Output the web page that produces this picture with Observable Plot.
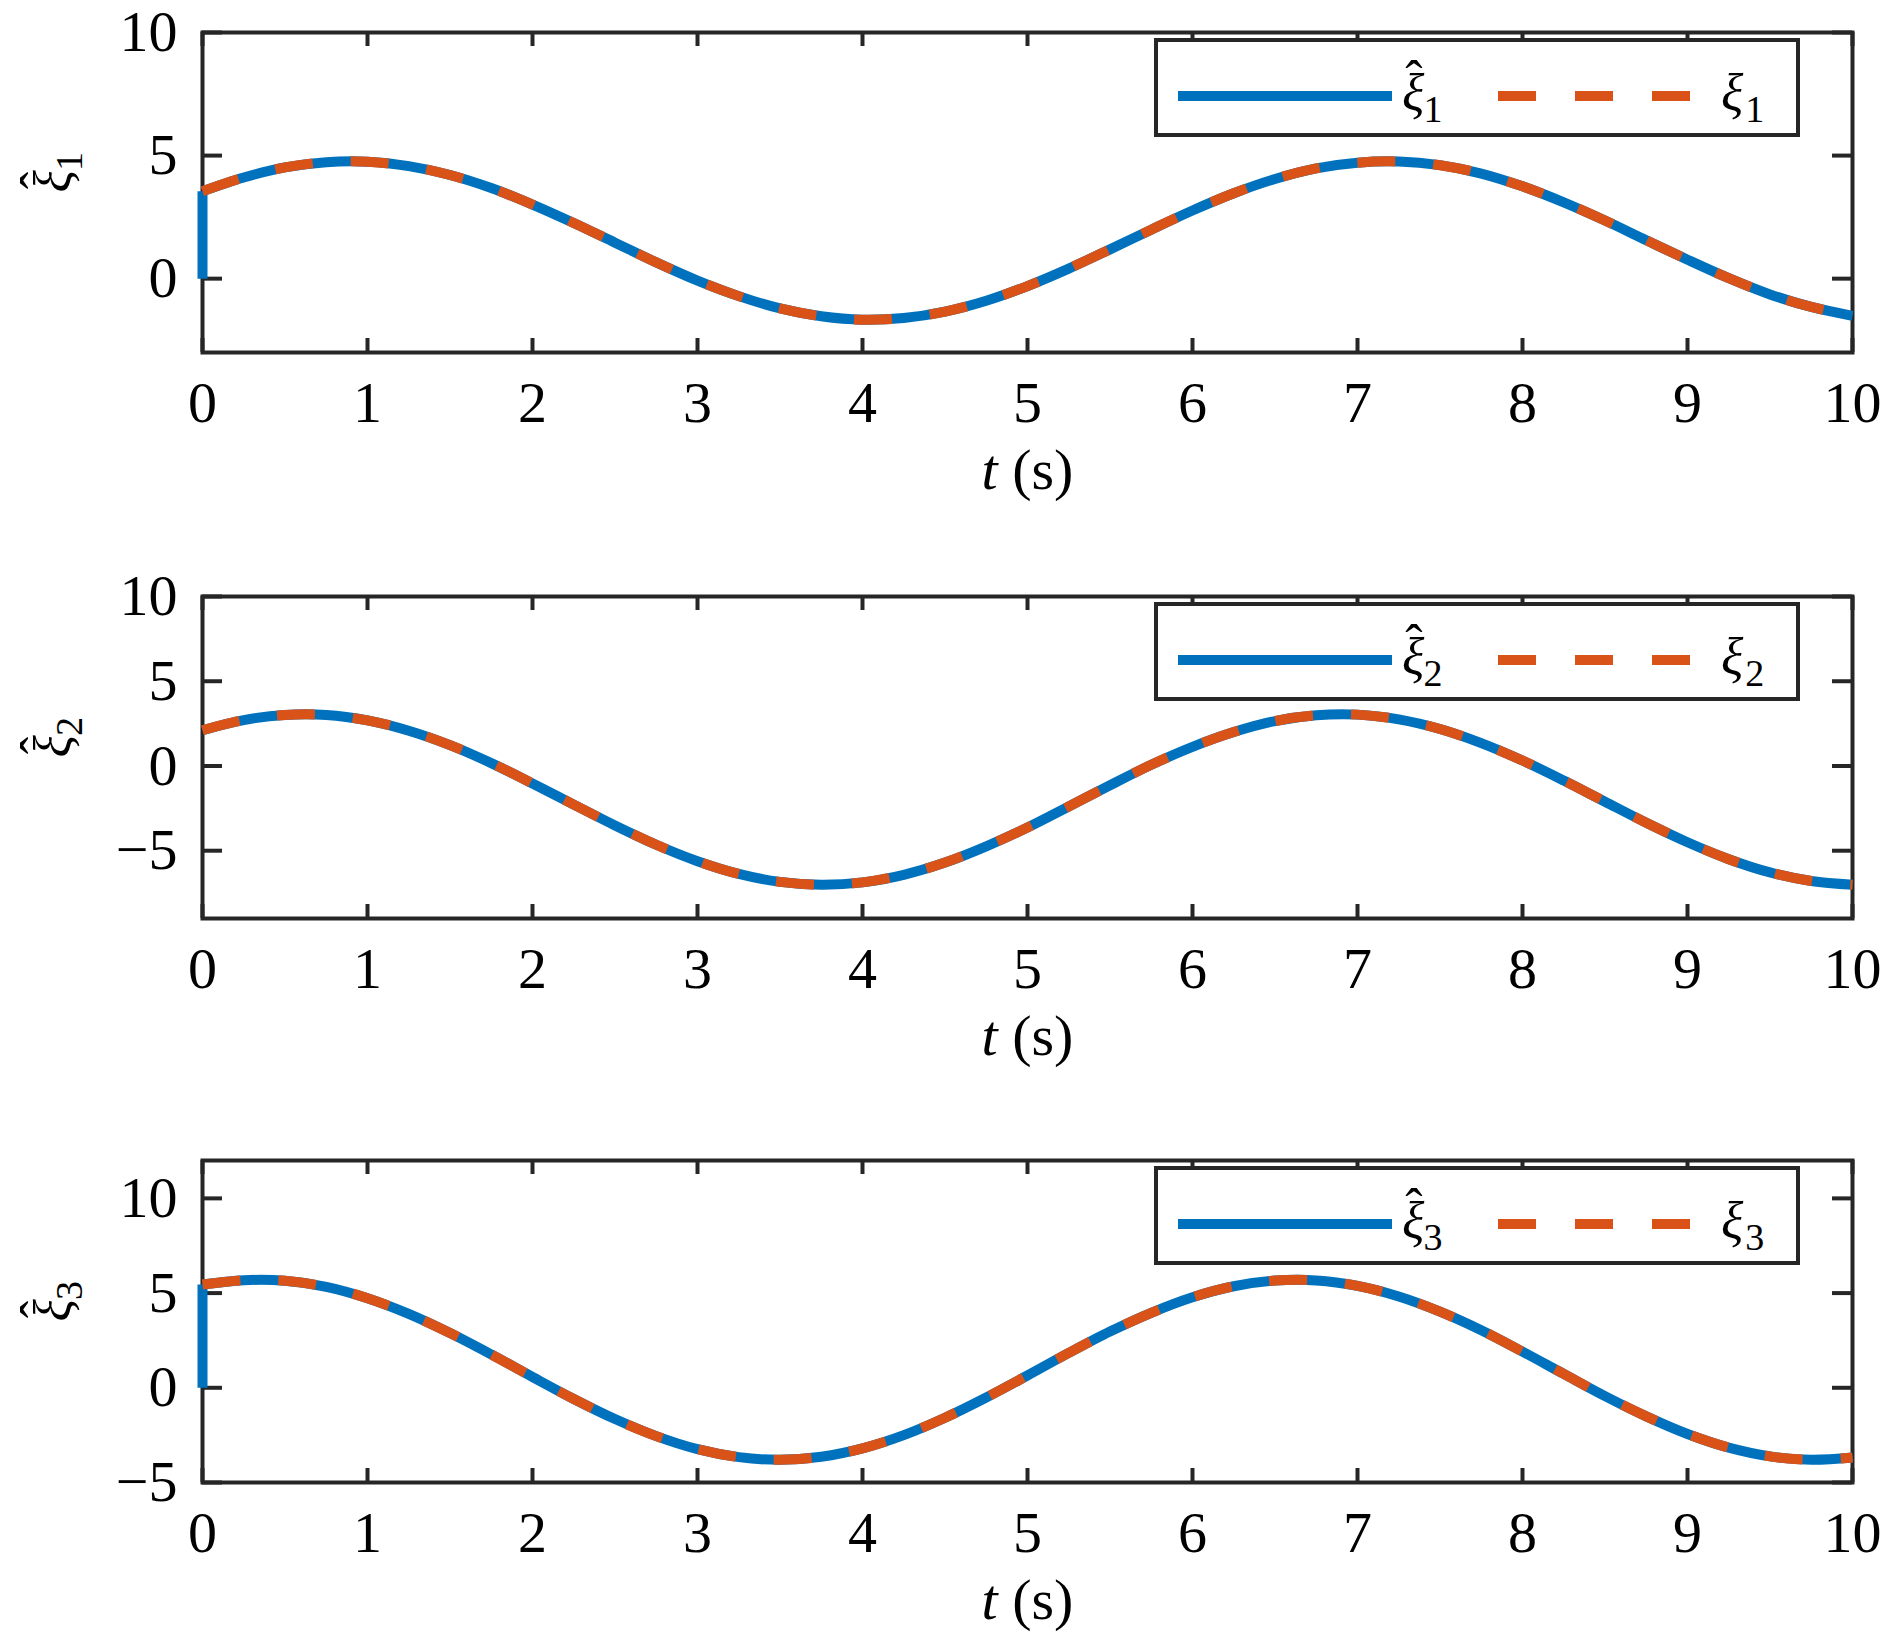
<!DOCTYPE html>
<html><head><meta charset="utf-8">
<script src="https://cdn.jsdelivr.net/npm/d3@7"></script>
<script src="https://cdn.jsdelivr.net/npm/@observablehq/plot@0.6"></script>
<style>
body{margin:0;background:#fff;}
#root{position:relative;width:1890px;height:1639px;overflow:hidden;background:#fff;}
#root svg{display:block;}
</style></head><body><div id="root"></div>
<script>
// ---- data ----
const tVals = [0,0.25,0.5,0.75,1,1.25,1.5,1.75,2,2.25,2.5,2.75,3,3.25,3.5,3.75,4,4.25,4.5,4.75,5,5.25,5.5,5.75,6,6.25,6.5,6.75,7,7.25,7.5,7.75,8,8.25,8.5,8.75,9,9.25,9.5,9.75,10];
const xi1 = [3.55,4.11,4.52,4.73,4.75,4.57,4.21,3.68,3.01,2.26,1.46,0.66,-0.08,-0.71,-1.21,-1.53,-1.67,-1.60,-1.34,-0.90,-0.30,0.41,1.19,1.99,2.77,3.47,4.05,4.48,4.71,4.76,4.61,4.27,3.75,3.10,2.36,1.56,0.77,0.02,-0.64,-1.15,-1.51];
const xi2 = [2.11,2.71,3.01,3.01,2.69,2.08,1.23,0.17,-1.03,-2.28,-3.51,-4.65,-5.62,-6.37,-6.84,-7.01,-6.87,-6.42,-5.70,-4.74,-3.63,-2.39,-1.14,0.07,1.13,2.00,2.65,2.99,3.03,2.75,2.18,1.35,0.32,-0.86,-2.11,-3.35,-4.50,-5.50,-6.28,-6.79,-7.01];
const xi3 = [5.45,5.68,5.65,5.33,4.73,3.90,2.89,1.76,0.57,-0.59,-1.65,-2.55,-3.24,-3.66,-3.80,-3.64,-3.20,-2.50,-1.58,-0.51,0.65,1.84,2.97,3.96,4.78,5.36,5.66,5.67,5.38,4.82,4.02,3.04,1.91,0.73,-0.44,-1.51,-2.44,-3.16,-3.62,-3.80,-3.68];
const hatInitial = [0, null, 0];          // estimator value at t = 0 (before the jump)
const seriesSubs = ["1", "2", "3"];
const xTicks = [0,1,2,3,4,5,6,7,8,9,10];
const yDomains = [[-3, 10], [-9, 10], [-5, 12]];
const yTicks = [[0, 5, 10], [-5, 0, 5, 10], [-5, 0, 5, 10]];
const xLabel = "t (s)";

// ---- styling / layout ----
const BLUE = "#0072BD", ORANGE = "#D95319", AX = "#262626";
const W = 1890, ML = 202, MR = 38, MT = 32, MB = 150;
const panelTops = [32, 596, 1160];
const plotHeights = [320, 322, 322];
const FONT = '"Liberation Serif", "Times New Roman", Times, serif';
const allSeries = [xi1, xi2, xi3];
const root = document.getElementById("root");

// hatted / plain xi with subscript as tspans
function xiMarkup(hat, sub, subSize) {
  let s = '<tspan font-style="italic">ξ</tspan>';
  if (hat) s += '<tspan dx="-19" dy="-13">ˆ</tspan><tspan dx="1" dy="25" font-size="' + subSize + '">' + sub + '</tspan>';
  else s += '<tspan dx="2" dy="12" font-size="' + subSize + '">' + sub + '</tspan>';
  return s;
}

function panel(i) {
  const truth = tVals.map((t, j) => ({t, v: allSeries[i][j]}));
  const jump = hatInitial[i] == null ? [] : [{t: tVals[0], v: hatInitial[i]}, truth[0]];
  const ph = plotHeights[i], pw = W - ML - MR;
  const yLab = "xihat" + seriesSubs[i];
  const svg = Plot.plot({
    width: W, height: MT + ph + MB,
    marginLeft: ML, marginRight: MR, marginTop: MT, marginBottom: MB,
    style: {fontFamily: FONT, fontSize: "58px", color: "#000", background: "transparent", overflow: "visible"},
    x: {domain: [0, 10]},
    y: {domain: yDomains[i]},
    marks: [
      Plot.ruleX(xTicks, {stroke: AX, strokeWidth: 4, insetBottom: ph - 14}),
      Plot.ruleX(xTicks, {stroke: AX, strokeWidth: 4, insetTop: ph - 14}),
      Plot.ruleY(yTicks[i], {stroke: AX, strokeWidth: 4, insetRight: pw - 20}),
      Plot.ruleY(yTicks[i], {stroke: AX, strokeWidth: 4, insetLeft: pw - 20}),
      Plot.frame({stroke: AX, strokeWidth: 4}),
      Plot.axisX(xTicks, {tickSize: 0, tickPadding: 28, label: null, fontSize: 58, fill: "#000", tickFormat: d3.format("d")}),
      Plot.axisY(yTicks[i], {tickSize: 0, tickPadding: 25, label: null, fontSize: 58, fill: "#000"}),
      Plot.line(jump, {x: "t", y: "v", stroke: BLUE, strokeWidth: 10, strokeLinecap: "butt"}),
      Plot.line(truth, {x: "t", y: "v", stroke: BLUE, strokeWidth: 10, strokeLinecap: "butt", curve: "catmull-rom"}),
      Plot.line(truth, {x: "t", y: "v", stroke: ORANGE, strokeWidth: 10, strokeLinecap: "butt", strokeDasharray: "38,38", curve: "catmull-rom"}),
      Plot.text([xLabel], {text: d => d, frameAnchor: "bottom", dy: 136, fontSize: 58, fill: "#000"}),
      Plot.text([yLab], {text: d => d, frameAnchor: "left", dx: -149, rotate: -90, fontSize: 52, fill: "#000"})
    ]
  });
  svg.style.position = "absolute";
  svg.style.left = "0px";
  svg.style.top = (panelTops[i] - MT) + "px";
  svg.querySelectorAll("text").forEach(el => {
    if (el.textContent === xLabel) el.innerHTML = '<tspan font-style="italic">t</tspan> (s)';
    else if (el.textContent === yLab) el.innerHTML = xiMarkup(true, seriesSubs[i], 38);
  });
  root.appendChild(svg);

  // legend (inside the axes, upper right)
  const lg = d3.create("svg").attr("width", 646).attr("height", 100)
    .style("position", "absolute").style("left", "1154px").style("top", (panelTops[i] + 6) + "px");
  lg.append("rect").attr("x", 2).attr("y", 2).attr("width", 642).attr("height", 95)
    .attr("fill", "#fff").attr("stroke", AX).attr("stroke-width", 4);
  lg.append("line").attr("x1", 24).attr("x2", 238).attr("y1", 58).attr("y2", 58)
    .attr("stroke", BLUE).attr("stroke-width", 10);
  lg.append("line").attr("x1", 344).attr("x2", 537).attr("y1", 58).attr("y2", 58)
    .attr("stroke", ORANGE).attr("stroke-width", 10).attr("stroke-dasharray", "38,39");
  const mk = (x, hat) => {
    const tx = lg.append("text").attr("x", x).attr("y", 72).attr("font-family", FONT).attr("font-size", 52).attr("fill", "#000");
    tx.node().innerHTML = xiMarkup(hat, seriesSubs[i], 38);
  };
  mk(248, true);
  mk(567, false);
  root.appendChild(lg.node());
}
[0, 1, 2].forEach(panel);
</script></body></html>
